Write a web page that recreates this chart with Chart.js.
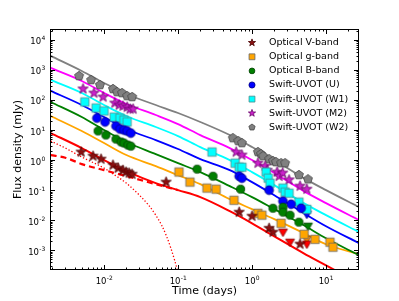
<!DOCTYPE html>
<html>
<head>
<meta charset="utf-8">
<script src="https://cdn.jsdelivr.net/npm/chart.js@4.4.1/dist/chart.umd.min.js"></script>
<style>
    html, body { margin: 0; padding: 0; background: #fff; }
</style>
</head>
<body>
<canvas id="lightCurve" width="399" height="301"></canvas>
<script>
// observed points, time in days, flux in mJy
const vT = [0.0049, 0.0071, 0.0091, 0.0132, 0.0155, 0.018, 0.0198, 0.0218, 0.0239, 0.069, 0.67, 1.0, 1.7, 1.92, 4.45];
const vF = [1.85, 1.36, 1.08, 0.68, 0.54, 0.46, 0.40, 0.37, 0.34, 0.185, 0.0185, 0.0136, 0.0054, 0.004, 0.0016];
const gT = [0.103, 0.145, 0.246, 0.327, 0.57, 1.2, 1.36, 2.47, 5.05, 7.1, 11.3, 12.4];
const gF = [0.40, 0.185, 0.117, 0.108, 0.046, 0.017, 0.0147, 0.0079, 0.0034, 0.0023, 0.00185, 0.00126];
const bT = [0.0083, 0.0106, 0.0145, 0.017, 0.0186, 0.021, 0.023, 0.181, 0.297, 0.70, 1.92, 2.62, 2.62, 3.26, 4.3];
const bF = [9.3, 6.8, 5.0, 4.0, 3.7, 3.16, 2.9, 0.5, 0.29, 0.108, 0.025, 0.027, 0.0185, 0.0147, 0.0086];
const uT = [0.008, 0.0103, 0.0145, 0.0164, 0.0186, 0.0205, 0.023, 0.67, 0.73, 1.7, 2.62, 3.37, 4.6];
const uF = [25, 18.5, 13.6, 10.8, 10, 9.3, 7.9, 0.29, 0.25, 0.1, 0.043, 0.034, 0.025];
const w1T = [0.0055, 0.0078, 0.01, 0.0137, 0.0164, 0.0186, 0.0205, 0.288, 0.59, 0.67, 0.73, 1.55, 1.65, 1.75, 2.62, 2.8, 3.16, 4.3, 5.5];
const w1F = [86, 54, 43, 27, 25, 21.5, 18.5, 1.85, 0.79, 0.58, 0.58, 0.40, 0.25, 0.17, 0.117, 0.086, 0.079, 0.04, 0.023];
const m2T = [0.0052, 0.0073, 0.0097, 0.014, 0.016, 0.018, 0.0205, 0.0225, 0.0247, 0.61, 0.73, 1.2, 1.5, 1.6, 2.18, 2.32, 2.6, 3.16, 4.45, 5.5];
const m2F = [233, 170, 126, 79, 68, 63, 58, 50, 50, 1.85, 1.47, 0.79, 0.63, 0.46, 0.40, 0.29, 0.37, 0.22, 0.136, 0.108];
const w2T = [0.0046, 0.0067, 0.0088, 0.0132, 0.015, 0.0175, 0.0205, 0.024, 0.55, 0.65, 0.73, 1.2, 1.32, 1.41, 1.7, 1.92, 2.1, 2.47, 2.8, 4.3, 5.7];
const w2F = [630, 464, 316, 232, 184, 170, 135, 126, 5.4, 4.3, 3.7, 1.85, 1.58, 1.36, 1.08, 0.93, 0.86, 0.79, 0.79, 0.32, 0.23];

// upper limits (down triangles)
const vLimT = [2.62, 3.26, 5.5];
const vLimF = [0.004, 0.00185, 0.0016];
const gLimT = [5.5];
const gLimF = [0.0023];
const bLimT = [5.7];
const bLimF = [0.0063];
const uLimT = [5.5];
const uLimF = [0.0158];

// model curves
const modelT = [0.0019, 0.005, 0.01, 0.02, 0.05, 0.1, 0.2, 0.5, 1, 2, 5, 10, 28];
const fitW2 = [2930, 926, 369, 158, 68, 36.9, 18.5, 6.8, 2.71, 1.0, 0.251, 0.1, 0.0271];
const fitM2 = [1166, 430, 171, 73.6, 31.6, 15.8, 6.8, 2.51, 1.0, 0.369, 0.0926, 0.0369, 0.01];
const fitW1 = [464, 171, 68, 29.3, 12.6, 6.3, 2.71, 1.0, 0.398, 0.147, 0.0369, 0.0147, 0.004];
const fitU = [200, 68, 27.1, 10.8, 4.64, 2.33, 1.08, 0.464, 0.185, 0.068, 0.0171, 0.0063, 0.00171];
const fitB = [85.8, 27.1, 10, 3.98, 1.58, 0.79, 0.398, 0.136, 0.0585, 0.0233, 0.0068, 0.0025, 0.00068];
const fitG = [29.3, 9.26, 3.69, 1.47, 0.63, 0.316, 0.158, 0.05, 0.0233, 0.0108, 0.0037, 0.00158, 0.00074];
const fitV = [7.94, 2.51, 1.0, 0.43, 0.171, 0.1, 0.0585, 0.02, 0.0079, 0.0029, 0.00079, 0.000316, 0.000079];
// V-band components
const dashT = [0.0019, 0.003, 0.005, 0.01, 0.02, 0.05, 0.1];
const dashF = [1.47, 1.2, 0.736, 0.464, 0.293, 0.158, 0.1];
const dotT = [0.0019, 0.003, 0.005, 0.01, 0.014, 0.02, 0.03, 0.04, 0.05, 0.06, 0.07, 0.08, 0.09, 0.1];
const dotF = [4.3, 2.51, 1.26, 0.54, 0.316, 0.171, 0.068, 0.0316, 0.0147, 0.0068, 0.0029, 0.00117, 0.00046, 0.000185];

const xTicks = [0.01, 0.1, 1, 10];
const yTicks = [1e-3, 1e-2, 1e-1, 1, 10, 100, 1e3, 1e4];

const pts = (t, f) => t.map((v, i) => ({ x: v, y: f[i] }));

// marker shapes like matplotlib's
function shapePath(ctx, shape, x, y, s) {
    ctx.beginPath();
    if (shape === 'circle') {
        ctx.arc(x, y, s, 0, Math.PI * 2);
    } else if (shape === 'square') {
        ctx.rect(x - s, y - s, 2 * s, 2 * s);
    } else if (shape === 'star' || shape === 'pentagon') {
        const n = shape === 'star' ? 10 : 5;
        for (let i = 0; i < n; i++) {
            const r = (shape === 'star' && i % 2) ? s * 0.4 : s;
            const a = -Math.PI / 2 + i * 2 * Math.PI / n;
            const px = x + r * Math.cos(a), py = y + r * Math.sin(a);
            i ? ctx.lineTo(px, py) : ctx.moveTo(px, py);
        }
        ctx.closePath();
    } else if (shape === 'tri') {
        ctx.moveTo(x - s, y - s * 0.7);
        ctx.lineTo(x + s, y - s * 0.7);
        ctx.lineTo(x, y + s);
        ctx.closePath();
    }
}
function drawShape(ctx, m, x, y, scale) {
    shapePath(ctx, m.shape, x, y, m.size * scale);
    ctx.fillStyle = m.fill;
    ctx.fill();
    ctx.lineWidth = 0.8;
    ctx.strokeStyle = m.edge;
    ctx.stroke();
}
function markerImage(m) {
    const c = document.createElement('canvas');
    const d = Math.ceil(2 * m.size + 4);
    c.width = c.height = d;
    drawShape(c.getContext('2d'), m, d / 2, d / 2, 1);
    return c;
}

const mV = { shape: 'star', size: 5.4, fill: '#8b1010', edge: '#4a0000' };
const mG = { shape: 'square', size: 4.2, fill: '#ffa500', edge: '#666' };
const mB = { shape: 'circle', size: 4.1, fill: '#008000', edge: '#004000' };
const mU = { shape: 'circle', size: 4.4, fill: '#0000ff', edge: '#000080' };
const mW1 = { shape: 'square', size: 4.2, fill: '#00ffff', edge: '#4a8a8a' };
const mM2 = { shape: 'star', size: 5.4, fill: '#cc22cc', edge: '#660066' };
const mW2 = { shape: 'pentagon', size: 4.7, fill: '#808080', edge: '#444' };
const triRed = { shape: 'tri', size: 4.5, fill: '#ff0000', edge: '#800000' };
const triOrange = { shape: 'tri', size: 4.5, fill: '#ff8c00', edge: '#804000' };
const triGreen = { shape: 'tri', size: 4.5, fill: '#008000', edge: '#004000' };
const triBlue = { shape: 'tri', size: 4.5, fill: '#0000ff', edge: '#000080' };

function lineSet(t, f, color, extra) {
    return Object.assign({
        type: 'line', data: pts(t, f), borderColor: color, borderWidth: 1.8,
        pointRadius: 0, cubicInterpolationMode: 'monotone', fill: false, order: 10
    }, extra || {});
}
function markSet(label, t, f, m) {
    return {
        type: 'scatter', label: label, data: pts(t, f), marker: m,
        pointStyle: markerImage(m), pointRadius: 5, order: 1
    };
}

// "10" with a raised exponent, like matplotlib mathtext
function drawPow(ctx, v, x, y, align) {
    const e = String(Math.round(Math.log10(v)));
    ctx.font = "8.5px 'DejaVu Sans'";
    const wb = ctx.measureText('10').width;
    ctx.font = "6px 'DejaVu Sans'";
    const we = ctx.measureText(e).width;
    const x0 = align === 'right' ? x - wb - we : x - (wb + we) / 2;
    ctx.font = "8.5px 'DejaVu Sans'";
    ctx.fillText('10', x0, y);
    ctx.font = "6px 'DejaVu Sans'";
    ctx.fillText(e, x0 + wb + 0.3, y - 4);
}

const legendPlugin = {
    id: 'innerLegend',
    afterDraw(chart) {
        const ctx = chart.ctx;
        const items = chart.data.datasets.filter(d => d.label);
        ctx.save();
        ctx.font = "9.5px 'DejaVu Sans'";
        ctx.textBaseline = 'middle';
        items.forEach((d, i) => {
            const y = 42.7 + i * 14.1;
            drawShape(ctx, d.marker, 252, y, 0.7);
            ctx.fillStyle = '#000';
            ctx.fillText(d.label, 269, y);
        });
        ctx.restore();
    }
};

const framePlugin = {
    id: 'frameTicks',
    afterDraw(chart) {
        const ctx = chart.ctx;
        const a = chart.chartArea;
        const xs = chart.scales.x, ys = chart.scales.y;
        ctx.save();
        ctx.strokeStyle = '#000';
        ctx.lineWidth = 1;
        ctx.beginPath();
        for (let e = -3; e <= 1; e++) {
            for (let k = 1; k <= 9; k++) {
                const v = k * Math.pow(10, e);
                if (v < xs.min || v > xs.max) continue;
                const px = Math.round(xs.getPixelForValue(v)) + 0.5;
                const len = k === 1 ? 5 : 2.5;
                ctx.moveTo(px, a.bottom); ctx.lineTo(px, a.bottom - len);
                ctx.moveTo(px, a.top); ctx.lineTo(px, a.top + len);
            }
        }
        for (let e = -4; e <= 4; e++) {
            for (let k = 1; k <= 9; k++) {
                const v = k * Math.pow(10, e);
                if (v < ys.min || v > ys.max) continue;
                const py = Math.round(ys.getPixelForValue(v)) + 0.5;
                const len = k === 1 ? 5 : 2.5;
                ctx.moveTo(a.left, py); ctx.lineTo(a.left + len, py);
                ctx.moveTo(a.right, py); ctx.lineTo(a.right - len, py);
            }
        }
        ctx.stroke();
        ctx.strokeRect(a.left + 0.5, a.top + 0.5, a.right - a.left - 1, a.bottom - a.top - 1);

        // tick labels
        ctx.fillStyle = '#000';
        ctx.textBaseline = 'alphabetic';
        ctx.textAlign = 'left';
        xTicks.forEach(v => drawPow(ctx, v, xs.getPixelForValue(v), 284, 'center'));
        yTicks.forEach(v => drawPow(ctx, v, a.left - 5, ys.getPixelForValue(v) + 4.5, 'right'));

        // axis titles
        ctx.font = "11px 'DejaVu Sans'";
        ctx.textAlign = 'center';
        ctx.textBaseline = 'middle';
        ctx.fillText('Time (days)', (a.left + a.right) / 2, 291);
        ctx.translate(18, (a.top + a.bottom) / 2);
        ctx.rotate(-Math.PI / 2);
        ctx.fillText('Flux density (mJy)', 0, 0);
        ctx.restore();
    }
};

Chart.defaults.font.family = "'DejaVu Sans', sans-serif";
Chart.defaults.color = '#000';

new Chart(document.getElementById('lightCurve'), {
    data: {
        datasets: [
            markSet('Optical V-band', vT, vF, mV),
            markSet('Optical g-band', gT, gF, mG),
            markSet('Optical B-band', bT, bF, mB),
            markSet('Swift-UVOT (U)', uT, uF, mU),
            markSet('Swift-UVOT (W1)', w1T, w1F, mW1),
            markSet('Swift-UVOT (M2)', m2T, m2F, mM2),
            markSet('Swift-UVOT (W2)', w2T, w2F, mW2),
            markSet('', vLimT, vLimF, triRed),
            markSet('', gLimT, gLimF, triOrange),
            markSet('', bLimT, bLimF, triGreen),
            markSet('', uLimT, uLimF, triBlue),
            lineSet(modelT, fitW2, '#808080'),
            lineSet(modelT, fitM2, '#ff00ff'),
            lineSet(modelT, fitW1, '#00ffff'),
            lineSet(modelT, fitU, '#0000ff'),
            lineSet(modelT, fitB, '#008000'),
            lineSet(modelT, fitG, '#ffa500'),
            lineSet(modelT, fitV, '#ff0000', { borderWidth: 2 }),
            lineSet(dashT, dashF, '#ff0000', { borderWidth: 2.2, borderDash: [6, 4] }),
            lineSet(dotT, dotF, '#ff0000', { borderWidth: 1.3, borderDash: [1.3, 2] })
        ]
    },
    options: {
        responsive: false,
        animation: false,
        events: [],
        // plot box: x 50..359, y 29..270
        layout: { padding: { top: 29, right: 40, left: 50, bottom: 31 } },
        plugins: { legend: { display: false }, tooltip: { enabled: false } },
        scales: {
            x: { type: 'logarithmic', display: false, min: 0.00186, max: 27.9 },
            y: { type: 'logarithmic', display: false, min: 2.2e-4, max: 2.3e4 }
        }
    },
    plugins: [legendPlugin, framePlugin]
});
</script>
</body>
</html>
